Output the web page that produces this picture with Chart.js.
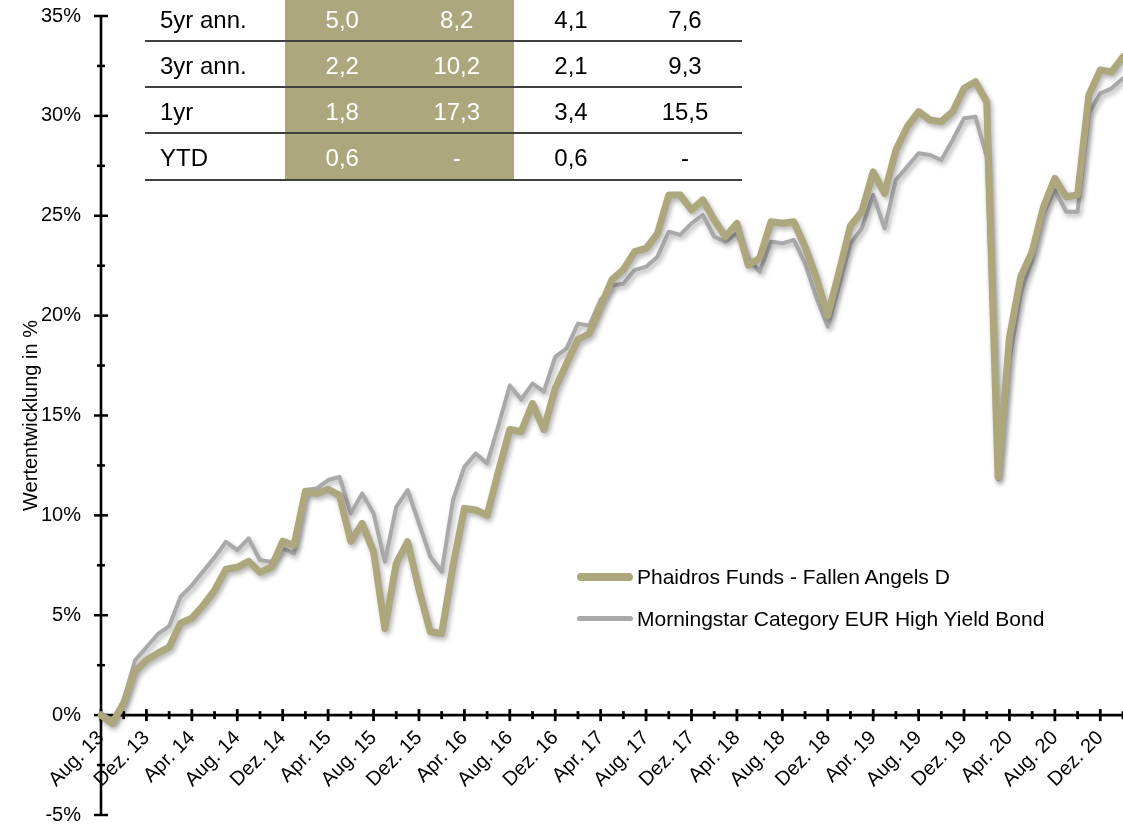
<!DOCTYPE html>
<html>
<head>
<meta charset="utf-8">
<script src="https://cdn.jsdelivr.net/npm/chart.js@4.4.1/dist/chart.umd.min.js"></script>
<style>
  html, body { margin: 0; padding: 0; background: #fff; overflow: hidden; }
  #wrap { position: relative; width: 1123px; height: 826px; font-family: "Liberation Sans", Arial, sans-serif; overflow: hidden; }
  #chart { position: absolute; left: 0; top: 0; }
  .abs { position: absolute; }
  .cell { position: absolute; top: 0; height: 100%; display: flex; align-items: center; padding-top: 4px; box-sizing: border-box; font-size: 24px; white-space: nowrap; }
  .legtext { position: absolute; font-size: 21px; line-height: 24px; white-space: nowrap; color: #000; }
</style>
</head>
<body>
<div id="wrap">
  <canvas id="chart" width="1123" height="826"></canvas>
</div>
<script>
// ---------- DATA ----------
const months = [
  "Aug. 13","Sep. 13","Okt. 13","Nov. 13","Dez. 13",
  "Jan. 14","Feb. 14","Mär. 14","Apr. 14","Mai 14","Jun. 14","Jul. 14","Aug. 14","Sep. 14","Okt. 14","Nov. 14","Dez. 14",
  "Jan. 15","Feb. 15","Mär. 15","Apr. 15","Mai 15","Jun. 15","Jul. 15","Aug. 15","Sep. 15","Okt. 15","Nov. 15","Dez. 15",
  "Jan. 16","Feb. 16","Mär. 16","Apr. 16","Mai 16","Jun. 16","Jul. 16","Aug. 16","Sep. 16","Okt. 16","Nov. 16","Dez. 16",
  "Jan. 17","Feb. 17","Mär. 17","Apr. 17","Mai 17","Jun. 17","Jul. 17","Aug. 17","Sep. 17","Okt. 17","Nov. 17","Dez. 17",
  "Jan. 18","Feb. 18","Mär. 18","Apr. 18","Mai 18","Jun. 18","Jul. 18","Aug. 18","Sep. 18","Okt. 18","Nov. 18","Dez. 18",
  "Jan. 19","Feb. 19","Mär. 19","Apr. 19","Mai 19","Jun. 19","Jul. 19","Aug. 19","Sep. 19","Okt. 19","Nov. 19","Dez. 19",
  "Jan. 20","Feb. 20","Mär. 20","Apr. 20","Mai 20","Jun. 20","Jul. 20","Aug. 20","Sep. 20","Okt. 20","Nov. 20","Dez. 20",
  "Jan. 21","Feb. 21"
];

const fundValues = [
  0, -0.42, 0.6, 2.2, 2.75, 3.1, 3.4, 4.6, 4.85, 5.5,
  6.25, 7.3, 7.4, 7.7, 7.15, 7.4, 8.7, 8.5, 11.2, 11.1,
  11.3, 11.0, 8.7, 9.6, 8.2, 4.34, 7.6, 8.68, 6.3, 4.17,
  4.09, 7.5, 10.35, 10.27, 10.0, 12.2, 14.3, 14.2, 15.6, 14.3,
  16.35, 17.6, 18.8, 19.1, 20.45, 21.8, 22.3, 23.2, 23.37, 24.1,
  26.04, 26.04, 25.29, 25.79, 24.8, 23.95, 24.62, 22.53, 22.87, 24.7,
  24.62, 24.7, 23.45, 21.9, 20.0, 22.2, 24.5, 25.2, 27.2, 26.12,
  28.29, 29.46, 30.21, 29.79, 29.71, 30.21, 31.38, 31.71, 30.71, 11.93,
  18.9, 21.95, 23.2, 25.45, 26.87, 25.95, 26.04, 31.05, 32.3, 32.2,
  32.96
];

const benchValues = [
  0.1, -0.25, 0.75, 2.75, 3.4, 4.05, 4.45, 5.92, 6.5, 7.2,
  7.9, 8.68, 8.26, 8.85, 7.76, 7.68, 8.35, 8.1, 11.27, 11.35,
  11.77, 11.93, 10.1, 11.1, 10.1, 7.68, 10.43, 11.27, 9.6, 7.93,
  7.18, 10.77, 12.43, 13.1, 12.6, 14.5, 16.5, 15.8, 16.6, 16.2,
  17.94, 18.36, 19.6, 19.5, 20.8, 21.5, 21.6, 22.28, 22.45, 22.95,
  24.2, 24.04, 24.62, 25.04, 23.95, 23.7, 24.12, 22.87, 22.2, 23.7,
  23.62, 23.79, 22.62, 20.9, 19.45, 21.5, 23.6, 24.37, 26.04, 24.37,
  26.79, 27.46, 28.13, 28.04, 27.79, 28.79, 29.88, 29.96, 27.96, 11.8,
  17.78, 21.1, 22.78, 25.12, 26.29, 25.2, 25.2, 30.13, 31.13, 31.38,
  31.88
];

const seriesNames = ["Phaidros Funds - Fallen Angels D", "Morningstar Category EUR High Yield Bond"];

const tableRowLabels = ["5yr ann.", "3yr ann.", "1yr", "YTD"];
const tableFundCol1  = ["5,0", "2,2", "1,8", "0,6"];
const tableFundCol2  = ["8,2", "10,2", "17,3", "-"];
const tableBenchCol1 = ["4,1", "2,1", "3,4", "0,6"];
const tableBenchCol2 = ["7,6", "9,3", "15,5", "-"];

const yTickMin = -5, yTickMax = 35, yTickStep = 2.5, yLabelStep = 5;
const xLabelEvery = 4, xTickEvery = 2;

// ---------- STYLE ----------
const GOLD = "#ADA77E";
const GRAY = "#A9A9A9";
const FONT = "'Liberation Sans', Arial, sans-serif";
Chart.defaults.font.family = FONT;
Chart.defaults.color = "#000";

const shadowPlugin = {
  id: "lineShadow",
  beforeDatasetDraw(chart) {
    const ctx = chart.ctx;
    ctx.save();
    ctx.shadowColor = "rgba(0,0,0,0.30)";
    ctx.shadowBlur = 5;
    ctx.shadowOffsetX = 2;
    ctx.shadowOffsetY = 3;
  },
  afterDatasetDraw(chart) {
    chart.ctx.restore();
  }
};

const axisPlugin = {
  id: "crossAxes",
  beforeDatasetsDraw(chart) {
    const { ctx, scales: { x, y } } = chart;
    const x0 = x.left;
    const y0 = y.getPixelForValue(0);
    ctx.save();
    ctx.strokeStyle = "#000";
    ctx.lineCap = "butt";
    // y axis line
    ctx.lineWidth = 2.6;
    ctx.beginPath();
    ctx.moveTo(x0, y.getPixelForValue(yTickMax));
    ctx.lineTo(x0, y.getPixelForValue(yTickMin));
    ctx.stroke();
    // y ticks
    ctx.lineWidth = 2.5;
    y.ticks.forEach(t => {
      const py = y.getPixelForValue(t.value);
      const major = Math.abs(t.value / yLabelStep - Math.round(t.value / yLabelStep)) < 1e-6;
      const len = major ? 7 : 4;
      ctx.beginPath();
      ctx.moveTo(x0 - len, py);
      ctx.lineTo(x0 + len, py);
      ctx.stroke();
    });
    // x axis line
    ctx.lineWidth = 2.6;
    ctx.beginPath();
    ctx.moveTo(x.left, y0);
    ctx.lineTo(x.right, y0);
    ctx.stroke();
    // x ticks
    ctx.lineWidth = 2.8;
    for (let i = 0; i < months.length; i += xTickEvery) {
      const px = x.getPixelForValue(i);
      const len = (i % xLabelEvery === 0) ? 6 : 4;
      ctx.beginPath();
      ctx.moveTo(px, y0 - len);
      ctx.lineTo(px, y0 + len);
      ctx.stroke();
    }
    ctx.restore();
  }
};

const chart = new Chart(document.getElementById("chart"), {
  type: "line",
  data: {
    labels: months,
    datasets: [
      { label: seriesNames[0], data: fundValues, borderColor: GOLD, backgroundColor: GOLD, borderWidth: 7,
        pointRadius: 0, tension: 0, borderJoinStyle: "round", borderCapStyle: "round", fill: false },
      { label: seriesNames[1], data: benchValues, borderColor: GRAY, backgroundColor: GRAY, borderWidth: 4,
        pointRadius: 0, tension: 0, borderJoinStyle: "round", borderCapStyle: "round", fill: false }
    ]
  },
  options: {
    responsive: false,
    animation: false,
    devicePixelRatio: 1,
    events: [],
    layout: { padding: { top: 16, bottom: 11, left: 0, right: 0 } },
    plugins: { legend: { display: false }, tooltip: { enabled: false }, title: { display: false } },
    scales: {
      x: {
        type: "category",
        position: { y: 0 },
        offset: false,
        grid: { display: false, drawTicks: false },
        border: { display: false },
        ticks: {
          autoSkip: false, maxRotation: 45, minRotation: 45, padding: 11,
          font: { size: 20 }, color: "#000",
          callback: (v, i) => (i % xLabelEvery === 0 ? months[i] : "")
        },
        afterFit: s => { s.paddingLeft = 0; s.paddingRight = 0; }
      },
      y: {
        min: yTickMin, max: yTickMax,
        grid: { display: false, drawTicks: false },
        border: { display: false },
        ticks: {
          stepSize: yTickStep, padding: 20, font: { size: 20 }, color: "#000",
          callback: v => (Math.abs(v / yLabelStep - Math.round(v / yLabelStep)) < 1e-6 ? Math.round(v) + "%" : "")
        },
        title: { display: true, text: "Wertentwicklung in %", font: { size: 20 }, color: "#000", padding: { top: 19, bottom: 0 } },
        afterFit: s => { s.width = 101; s.paddingTop = 0; s.paddingBottom = 0; }
      }
    }
  },
  plugins: [axisPlugin, shadowPlugin]
});

// ---------- TABLE (overlay) ----------
const wrap = document.getElementById("wrap");
function el(cls, styles, text) {
  const d = document.createElement("div");
  d.className = cls;
  Object.assign(d.style, styles);
  if (text !== undefined) d.textContent = text;
  return d;
}
const tblLeft = 145, tblWidth = 597, rowH = 46.3, tblTop = -4.6;
const goldLeft = 285, goldWidth = 229;
wrap.appendChild(el("abs", { left: goldLeft + "px", top: "0px", width: goldWidth + "px",
  height: (tblTop + rowH * tableRowLabels.length) + "px", background: GOLD }));
const colDefs = [
  { vals: tableRowLabels, left: 0, width: 140, align: "flex-start", pad: 15, color: "#000" },
  { vals: tableFundCol1, left: 140, width: 114.5, align: "center", pad: 0, color: "#fff" },
  { vals: tableFundCol2, left: 254.5, width: 114.5, align: "center", pad: 0, color: "#fff" },
  { vals: tableBenchCol1, left: 369, width: 114, align: "center", pad: 0, color: "#000" },
  { vals: tableBenchCol2, left: 483, width: 114, align: "center", pad: 0, color: "#000" }
];
tableRowLabels.forEach((_, r) => {
  const row = el("abs", { left: tblLeft + "px", top: (tblTop + r * rowH) + "px", width: tblWidth + "px",
    height: rowH + "px", borderBottom: "2px solid #404040", boxSizing: "border-box" });
  colDefs.forEach(c => {
    row.appendChild(el("cell", { left: c.left + "px", width: c.width + "px", justifyContent: c.align,
      paddingLeft: c.pad + "px", color: c.color }, c.vals[r]));
  });
  wrap.appendChild(row);
});

// ---------- LEGEND (overlay, from datasets) ----------
const legendRows = [
  { lineTop: 573, lineH: 8, textTop: 565 },
  { lineTop: 616, lineH: 4.5, textTop: 607 }
];
chart.data.datasets.forEach((ds, i) => {
  const L = legendRows[i];
  wrap.appendChild(el("abs", { left: "577px", top: L.lineTop + "px", width: "56px", height: L.lineH + "px",
    background: ds.borderColor, borderRadius: "4px" }));
  wrap.appendChild(el("legtext", { left: "637px", top: L.textTop + "px" }, ds.label));
});
</script>
</body>
</html>
